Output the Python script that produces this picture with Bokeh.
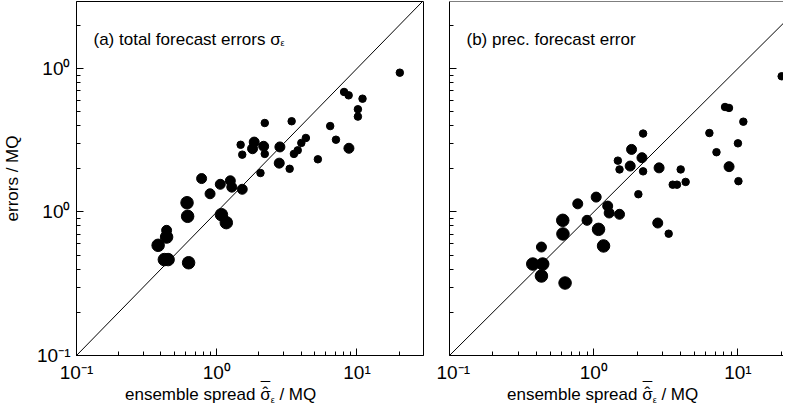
from bokeh.plotting import figure
from bokeh.layouts import row, column
from bokeh.models import FixedTicker, Label, Slope, Span, Div
from bokeh.embed import file_html
from bokeh.resources import INLINE

# ---- data ----
# panel (a): total forecast errors
a_spread = [20.2, 8.09, 8.72, 10.95, 10.15, 10.15, 6.44, 7.08, 8.76, 5.26,
            4.32, 4.01, 3.78, 3.55, 3.42, 3.31, 2.82, 2.79, 2.20, 2.16,
            2.20, 2.05, 1.85, 1.80, 1.48, 1.52, 1.52, 1.25, 1.28, 1.06,
            0.896, 0.780, 1.08, 1.17, 0.614, 0.620, 0.630, 0.439, 0.439, 0.382,
            0.423, 0.450]
a_error = [9.35, 6.86, 6.50, 6.16, 5.20, 4.62, 3.97, 3.19, 2.78, 2.33,
           3.28, 3.03, 2.69, 2.54, 4.29, 2.00, 2.84, 2.19, 4.17, 2.87,
           2.54, 1.87, 3.07, 2.76, 2.94, 2.51, 1.44, 1.65, 1.49, 1.56,
           1.34, 1.71, 0.958, 0.843, 1.16, 0.933, 0.443, 0.745, 0.669, 0.586,
           0.466, 0.466]
a_class = ["s", "s", "s", "s", "s", "s", "s", "s", "m", "s",
           "s", "s", "s", "s", "s", "s", "m", "m", "s", "m",
           "s", "s", "m", "m", "s", "s", "m", "m", "m", "m",
           "m", "m", "l", "l", "l", "l", "l", "m", "l", "l",
           "l", "l"]

# panel (b): precipitation forecast error
b_spread = [20.1, 8.14, 8.67, 10.9, 6.34, 10.0, 7.10, 8.68, 10.08, 4.01,
            4.34, 3.53, 3.78, 2.84, 2.78, 3.31, 2.20, 2.16, 2.20, 2.04,
            1.83, 1.79, 1.47, 1.51, 1.51, 1.25, 1.28, 1.04, 1.08, 1.17,
            0.775, 0.899, 0.610, 0.612, 0.633, 0.434, 0.378, 0.443, 0.434]
b_error = [8.83, 5.39, 5.31, 4.26, 3.55, 3.01, 2.61, 2.07, 1.64, 1.98,
           1.62, 1.55, 1.55, 2.03, 0.838, 0.706, 3.52, 2.39, 1.92, 1.33,
           2.73, 2.09, 2.28, 1.98, 0.964, 1.10, 0.984, 1.27, 0.757, 0.580,
           1.14, 0.875, 0.875, 0.703, 0.320, 0.570, 0.434, 0.434, 0.358]
b_class = ["s", "s", "s", "s", "s", "s", "s", "m", "s", "s",
           "s", "s", "s", "m", "m", "s", "s", "m", "s", "s",
           "m", "m", "s", "s", "m", "m", "m", "m", "l", "l",
           "m", "m", "l", "l", "l", "m", "l", "l", "l"]

major_ticks = [0.1, 1, 10]
x_tick_labels = ["10\u207b\u00b9", "10\u2070", "10\u00b9"]
y_tick_labels = ["10\u207b\u00b9", "10\u2070", "10\u2070"]
no_labels = ["", "", ""]

FONT = "Liberation Sans"
SIZES = {"s": 7.5, "m": 10, "l": 12.5}
minor_ticks = [m * 10.0 ** k for k in (-1, 0, 1) for m in range(2, 10)]
Y_END = 29.3


def style_axis(ax, labels):
    ax.ticker = FixedTicker(ticks=major_ticks, minor_ticks=minor_ticks)
    ax.major_label_overrides = dict(zip(major_ticks, labels))
    ax.major_tick_in = 7
    ax.major_tick_out = 0
    ax.minor_tick_in = 4
    ax.minor_tick_out = 0
    ax.axis_line_color = "black"
    ax.major_tick_line_color = "black"
    ax.minor_tick_line_color = "black"
    ax.major_label_text_font = FONT
    ax.major_label_text_color = "black"
    ax.major_label_text_font_size = "19px"
    ax.major_label_standoff = 6


def lbl(p, x, y, text, size="17px"):
    p.add_layout(Label(x=x, y=y, x_units="screen", y_units="screen", text=text,
                       text_font=FONT, text_font_size=size, text_color="black",
                       text_align="left", text_baseline="alphabetic"))


def panel(spread, error, cls, width, xend, left, right, title, sub_x, ylab):
    p = figure(width=width, height=386, x_axis_type="log", y_axis_type="log",
               x_range=(0.1, xend), y_range=(0.1, Y_END),
               output_backend="svg", toolbar_location=None,
               min_border_left=left, min_border_right=right,
               min_border_top=1, min_border_bottom=31,
               background_fill_color="white", border_fill_color="white")
    p.grid.visible = False
    style_axis(p.xaxis[0], x_tick_labels)
    style_axis(p.yaxis[0], y_tick_labels if ylab else no_labels)
    if ylab:
        p.yaxis.axis_label = "errors / MQ"
        p.yaxis.axis_label_text_font = FONT
        p.yaxis.axis_label_text_font_style = "normal"
        p.yaxis.axis_label_text_font_size = "17px"
        p.yaxis.axis_label_text_color = "black"
        p.yaxis.axis_label_standoff = 12
    p.add_layout(Slope(gradient=1, y_intercept=0, line_color="black", line_width=1))
    p.scatter(spread, error, size=[SIZES[c] for c in cls], color="black",
              line_color="black")
    lbl(p, 17, 316, title)
    if sub_x is not None:
        lbl(p, sub_x, 313, "\u03b5", size="9px")
    return p


def xtitle(width, pad):
    html = (
        '<div style="font-family:\'Liberation Sans\';font-size:17px;line-height:18px;'
        'white-space:nowrap;color:black;padding-left:%dpx">' % pad
        + 'ensemble spread '
        '<span style="position:relative;display:inline-block">\u03c3'
        '<span style="position:absolute;left:0;right:0;top:-1px;text-align:center">\u02c6</span>'
        '<span style="position:absolute;left:0;right:0;top:-6px;text-align:center">\u00af</span>'
        '</span>'
        '<span style="font-size:9px;position:relative;top:3px">\u03b5</span> / MQ</div>'
    )
    return Div(text=html, width=width, height=18, margin=0)


pa = panel(a_spread, a_error, a_class, 436, 29.8, 66, 13,
           "(a) total forecast errors \u03c3", 204, True)
pa.outline_line_color = "black"

pb = panel(b_spread, b_error, b_class, 347, 20.7, 13, 0,
           "(b) prec. forecast error", None, False)
pb.outline_line_color = None
pb.add_layout(Span(location=Y_END, dimension="width", line_color="black", line_width=1))

da = xtitle(436, 125)
db = xtitle(347, 71)

layout = column(row(pa, pb), row(da, db))
open("out.html", "w").write(file_html(layout, INLINE))
